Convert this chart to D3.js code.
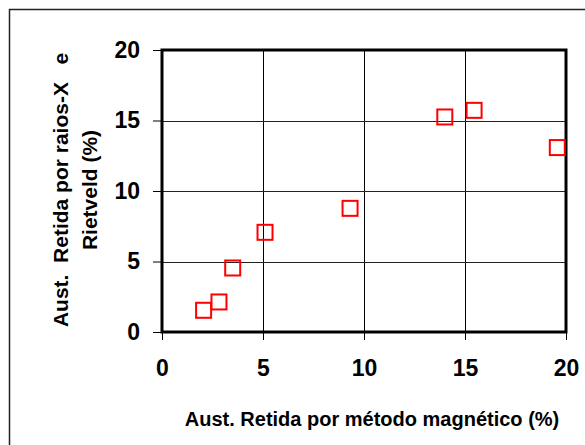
<!DOCTYPE html>
<html>
<head>
<meta charset="utf-8">
<script src="https://cdn.jsdelivr.net/npm/d3@7"></script>
<style>
  body { margin: 0; background: #fff; }
  text { font-family: "Liberation Sans", Arial, sans-serif; font-weight: bold; }
</style>
</head>
<body>
<svg id="scatter-plot" width="585" height="445"></svg>
<script>
// data
const magneticValues = [2.06, 2.82, 3.5, 5.1, 9.31, 14.0, 15.45, 19.57];
const rietveldValues = [1.54, 2.13, 4.54, 7.07, 8.77, 15.25, 15.72, 13.08];
const tickValues = [0, 5, 10, 15, 20];
const xTitle = "Aust. Retida por método magnético (%)";
const yTitleLines = ["Aust.  Retida por raios-X   e", "Rietveld (%)"];

const points = magneticValues.map((x, i) => ({ x, y: rietveldValues[i] }));

// svg, plot size, margins
const svg = d3.select("#scatter-plot");
const margin = { top: 50, left: 162 };
const width = 404;
const height = 282;

// outer frame (runs off the right and bottom edges)
svg.append("rect")
  .attr("x", 9.5).attr("y", 9.5)
  .attr("width", 600).attr("height", 460)
  .attr("fill", "none")
  .attr("stroke", "#222")
  .attr("stroke-width", 1.5);

const chart = svg.append("g")
  .attr("transform", `translate(${margin.left},${margin.top})`);

// scales
const xScale = d3.scaleLinear().domain([0, 20]).range([0, width]);
const yScale = d3.scaleLinear().domain([0, 20]).range([height, 0]);

// grid lines
chart.append("g")
  .selectAll("line.vgrid")
  .data(tickValues.slice(1, -1))
  .join("line")
  .attr("x1", (d) => Math.round(xScale(d)) + 0.5)
  .attr("x2", (d) => Math.round(xScale(d)) + 0.5)
  .attr("y1", 0).attr("y2", height)
  .attr("stroke", "#000").attr("stroke-width", 1);

chart.append("g")
  .selectAll("line.hgrid")
  .data(tickValues.slice(1, -1))
  .join("line")
  .attr("y1", (d) => Math.round(yScale(d)) + 0.5)
  .attr("y2", (d) => Math.round(yScale(d)) + 0.5)
  .attr("x1", 0).attr("x2", width)
  .attr("stroke", "#222").attr("stroke-width", 1);

// axes
const xAxisGroup = chart.append("g")
  .attr("transform", `translate(0,${height})`)
  .call(d3.axisBottom(xScale).tickValues(tickValues).tickSize(8).tickPadding(20));
const yAxisGroup = chart.append("g")
  .call(d3.axisLeft(yScale).tickValues(tickValues).tickSize(9).tickPadding(13));

[xAxisGroup, yAxisGroup].forEach((g) => {
  g.select(".domain").remove();
  g.selectAll(".tick line").attr("stroke", "#000").attr("stroke-width", 1);
  g.selectAll(".tick text")
    .attr("fill", "#000")
    .style("font-size", "23px")
    .style("font-family", "'Liberation Sans', Arial, sans-serif")
    .style("font-weight", "bold");
});

// plot border
chart.append("rect")
  .attr("x", 0).attr("y", 0)
  .attr("width", width).attr("height", height)
  .attr("fill", "none")
  .attr("stroke", "#000")
  .attr("stroke-width", 3);

// markers: hollow red squares
const size = 15;
chart.selectAll("rect.point")
  .data(points)
  .join("rect")
  .attr("class", "point")
  .attr("x", (d) => xScale(d.x) - size / 2)
  .attr("y", (d) => yScale(d.y) - size / 2)
  .attr("width", size).attr("height", size)
  .attr("fill", "none")
  .attr("stroke", "#ff0000")
  .attr("stroke-width", 2);

// axis titles
svg.append("text")
  .attr("x", 372).attr("y", 426)
  .attr("text-anchor", "middle")
  .style("font-size", "20px")
  .text(xTitle);

const yTitle = svg.append("text")
  .attr("transform", `translate(0,190) rotate(-90)`)
  .attr("text-anchor", "middle")
  .style("font-size", "21px")
  .style("white-space", "pre");

yTitle.selectAll("tspan")
  .data(yTitleLines)
  .join("tspan")
  .attr("x", 0)
  .attr("y", (d, i) => 68 + i * 29)
  .text((d) => d);
</script>
</body>
</html>
